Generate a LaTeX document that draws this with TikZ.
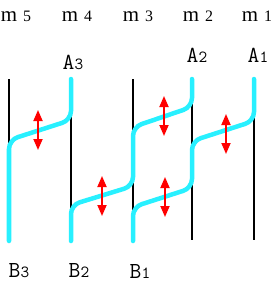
\documentclass[tikz,border=0pt]{standalone}
\usepackage{fontspec}
\newfontfamily\rowfont{Liberation Serif}
\usetikzlibrary{arrows.meta}
\definecolor{strandcol}{RGB}{40,240,255}
\newcommand{\rowlab}[1]{{\rowfont\fontsize{21}{21}\selectfont m}\hspace{6bp}{\rowfont\fontsize{16}{16}\selectfont #1}}
\newcommand{\tiplab}[2]{{\ttfamily\fontsize{23}{23}\selectfont #1}{\ttfamily\fontsize{17}{17}\selectfont #2}}

\begin{document}
\begin{tikzpicture}[x=1bp,y=-1bp,
    wire/.style={line width=1.4bp,black},
    strand/.style={line width=4.5bp,strandcol,line cap=round,rounded corners=9bp},
    adj/.style={{Triangle[length=11bp,width=9bp]}-{Triangle[length=11bp,width=9bp]},
      line width=1.8bp,red},
    lbl/.style={anchor=base,inner sep=0pt}]
  \useasboundingbox (0,0) rectangle (273,282);
  % the five vertical lines
  \foreach \i/\x in {1/254,2/192,3/133,4/71,5/9} {
    \coordinate (t\i) at (\x,79);
    \coordinate (b\i) at (\x,240);
    \draw[wire] (t\i) -- (b\i);
  }
  % strands
  \draw[strand] (t1) -- (254,121) -- (192,141) -- (192,188) -- (133,207) -- (133,241);
  \draw[strand] (t2) -- (192,107) -- (133,127) -- (133,186) -- (71,205) -- (71,241);
  \draw[strand] (t4) -- (71,120) -- (9,140) -- (9,241);
  % red double arrows
  \foreach \x/\y in {38/130,102/196,164/116,165/197,226/134}
    \draw[adj] (\x,\y-20) -- (\x,\y+20);
  % labels
  \node[lbl] (m5) at (16,21) {\rowlab{5}};
  \node[lbl] (m4) at (77,21) {\rowlab{4}};
  \node[lbl] (m3) at (138,21) {\rowlab{3}};
  \node[lbl] (m2) at (198,21) {\rowlab{2}};
  \node[lbl] (m1) at (257,21) {\rowlab{1}};
  \node[lbl] (a3) at (73,69) {\tiplab{A}{3}};
  \node[lbl] (a2) at (197,62) {\tiplab{A}{2}};
  \node[lbl] (a1) at (258,62) {\tiplab{A}{1}};
  \node[lbl] (b3) at (19,277) {\tiplab{B}{3}};
  \node[lbl] (b2) at (79,277) {\tiplab{B}{2}};
  \node[lbl] (bb1) at (140,278) {\tiplab{B}{1}};
\end{tikzpicture}
\end{document}
